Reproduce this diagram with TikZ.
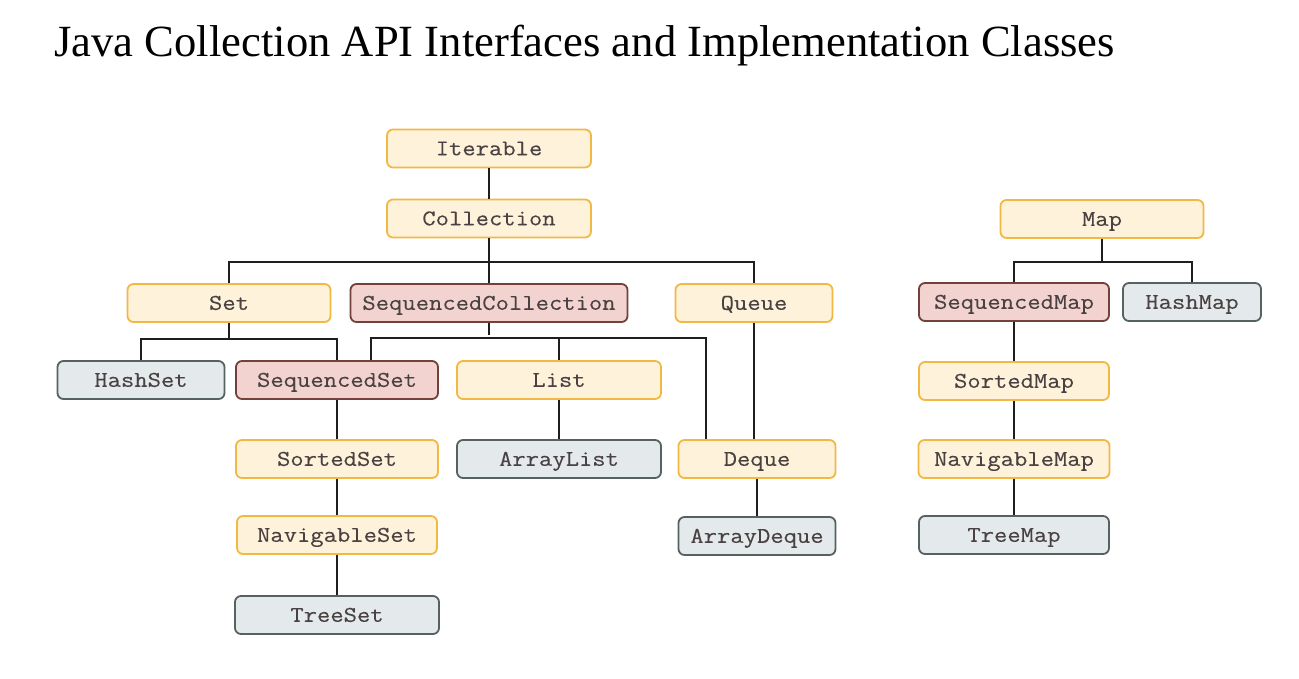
\documentclass[tikz,border=0pt]{standalone}
\usepackage{fontspec}
\setmainfont{Liberation Serif}
\newfontfamily\boxfont[FakeStretch=1.15,FakeBold=0.2]{Latin Modern Mono}
\begin{document}
\begin{tikzpicture}[x=1pt,y=-1pt,
  base/.style={rounded corners=6pt, line width=1.8pt, inner sep=0pt,
    minimum height=38pt, text height=13.6pt, text depth=0pt,
    font=\boxfont\fontsize{22.5}{24}\selectfont, text=txt},
  ibox/.style={base, draw=ydraw, fill=yfill},
  sbox/.style={base, draw=rdraw, fill=rfill},
  cbox/.style={base, draw=gdraw, fill=gfill},
  link/.style={line width=1.9pt, draw=lnk}]
\definecolor{ydraw}{HTML}{F2B844}
\definecolor{yfill}{HTML}{FEF2DA}
\definecolor{rdraw}{HTML}{74403B}
\definecolor{rfill}{HTML}{F2D3D0}
\definecolor{gdraw}{HTML}{56625F}
\definecolor{gfill}{HTML}{E4EAEC}
\definecolor{txt}{HTML}{4A4242}
\definecolor{lnk}{HTML}{1E1E1E}
\useasboundingbox[fill=white] (0,0) rectangle (1299,678);
\node[anchor=base west, font=\fontsize{44.6}{50}\selectfont] (title) at (51,56) {Java Collection API Interfaces and Implementation Classes};
% Collection hierarchy
\node[ibox, minimum width=204pt] (iter) at (489,148.5) {Iterable};
\node[ibox, minimum width=204pt] (coll) at (489,218.5) {Collection};
\node[ibox, minimum width=203pt] (set) at (229,303) {Set};
\node[sbox, minimum width=277pt] (seqcoll) at (489,303) {SequencedCollection};
\node[ibox, minimum width=157pt] (queue) at (754,303) {Queue};
\node[cbox, minimum width=167pt] (hashset) at (141,380) {HashSet};
\node[sbox, minimum width=202pt] (seqset) at (337,380) {SequencedSet};
\node[ibox, minimum width=204pt] (list) at (559,380) {List};
\node[ibox, minimum width=202pt] (sortedset) at (337,459) {SortedSet};
\node[cbox, minimum width=204pt] (arraylist) at (559,459) {ArrayList};
\node[ibox, minimum width=157pt] (deque) at (757,459) {Deque};
\node[ibox, minimum width=200pt] (navset) at (337,535) {NavigableSet};
\node[cbox, minimum width=157pt] (arraydeque) at (757,536) {ArrayDeque};
\node[cbox, minimum width=204pt] (treeset) at (337,615) {TreeSet};
% Map hierarchy
\node[ibox, minimum width=203pt] (map) at (1102,219) {Map};
\node[sbox, minimum width=190pt] (seqmap) at (1014,302) {SequencedMap};
\node[cbox, minimum width=138pt] (hashmap) at (1192,302) {HashMap};
\node[ibox, minimum width=190pt] (sortedmap) at (1014,381) {SortedMap};
\node[ibox, minimum width=191pt] (navmap) at (1014,459) {NavigableMap};
\node[cbox, minimum width=190pt] (treemap) at (1014,535) {TreeMap};
% bus coordinates
\coordinate (cbus) at (489,262);
\coordinate (setbus) at (229,339);
\coordinate (scbus) at (489,338);
\coordinate (scleft) at (371,338);
\coordinate (scright) at (706,338);
\coordinate (mbus) at (1102,262);
% connectors
\draw[link] (iter.south) -- (coll.north);
\draw[link] (coll.south) -- (seqcoll.north);
\draw[link] (set.north) -- (set.north |- cbus) -- (queue.north |- cbus) -- (queue.north);
\draw[link] (set.south) -- (setbus);
\draw[link] (hashset.north) -- (hashset.north |- setbus) -- (seqset.north |- setbus) -- (seqset.north);
\draw[link] (seqcoll.south) -- ([yshift=3pt]scbus);
\draw[link] (scleft |- seqset.north) -- (scleft) -- (scright) -- (scright |- deque.north);
\draw[link] (list.north) -- (list.north |- scbus);
\draw[link] (queue.south) -- (queue.south |- deque.north);
\draw[link] (list.south) -- (arraylist.north);
\draw[link] (deque.south) -- (arraydeque.north);
\draw[link] (seqset.south) -- (sortedset.north);
\draw[link] (sortedset.south) -- (navset.north);
\draw[link] (navset.south) -- (treeset.north);
\draw[link] (map.south) -- (mbus);
\draw[link] (seqmap.north) -- (seqmap.north |- mbus) -- (hashmap.north |- mbus) -- (hashmap.north);
\draw[link] (seqmap.south) -- (sortedmap.north);
\draw[link] (sortedmap.south) -- (navmap.north);
\draw[link] (navmap.south) -- (treemap.north);
\end{tikzpicture}
\end{document}
